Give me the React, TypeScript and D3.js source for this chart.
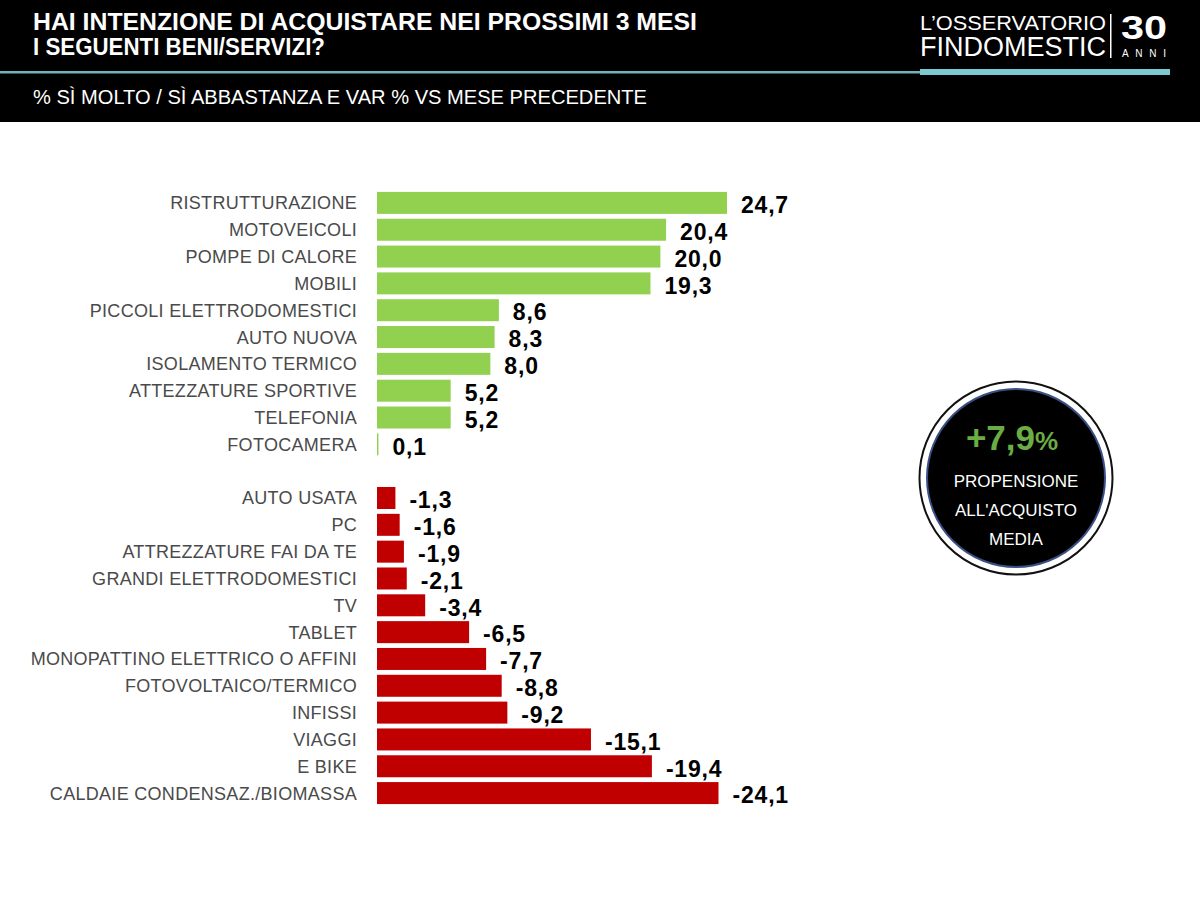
import React from "react";
import * as d3 from "d3";

const posCategories = [
  "RISTRUTTURAZIONE", "MOTOVEICOLI", "POMPE DI CALORE", "MOBILI",
  "PICCOLI ELETTRODOMESTICI", "AUTO NUOVA", "ISOLAMENTO TERMICO",
  "ATTEZZATURE SPORTIVE", "TELEFONIA", "FOTOCAMERA",
];
const posValues = [24.7, 20.4, 20.0, 19.3, 8.6, 8.3, 8.0, 5.2, 5.2, 0.1];
const negCategories = [
  "AUTO USATA", "PC", "ATTREZZATURE FAI DA TE", "GRANDI ELETTRODOMESTICI",
  "TV", "TABLET", "MONOPATTINO ELETTRICO O AFFINI", "FOTOVOLTAICO/TERMICO",
  "INFISSI", "VIAGGI", "E BIKE", "CALDAIE CONDENSAZ./BIOMASSA",
];
const negValues = [-1.3, -1.6, -1.9, -2.1, -3.4, -6.5, -7.7, -8.8, -9.2, -15.1, -19.4, -24.1];

const titleLines = ["HAI INTENZIONE DI ACQUISTARE NEI PROSSIMI 3 MESI", "I SEGUENTI BENI/SERVIZI?"];
const subtitle = "% SÌ MOLTO / SÌ ABBASTANZA E VAR % VS MESE PRECEDENTE";
const badgeValue = "+7,9";
const badgeLines = ["PROPENSIONE", "ALL'ACQUISTO", "MEDIA"];

type Row = { key: string; label: string; value: number };

export default function App() {
  const rows: Row[] = [
    ...posCategories.map((c, i) => ({ key: "p" + i, label: c, value: posValues[i] })),
    { key: "gap", label: "", value: NaN },
    ...negCategories.map((c, i) => ({ key: "n" + i, label: c, value: negValues[i] })),
  ];
  const y = d3.scaleBand<string>().domain(rows.map((r) => r.key)).range([189.5, 806.5]).paddingInner(0.18).paddingOuter(0.09);
  const x = d3.scaleLinear().domain([0, 24.7]).range([377, 727]);
  const fmt = (v: number) => d3.format(".1f")(v).replace(".", ",").replace("−", "-");
  const font = "'Liberation Sans', Arial, Helvetica, sans-serif";

  return (
    <svg width={1200} height={900} style={{ position: "absolute", left: 0, top: 0 }} fontFamily={font}>
      <rect x={0} y={0} width={1200} height={900} fill="#fff" />
      <rect x={0} y={0} width={1200} height={122} fill="#000" />
      {titleLines.map((t, i) => (
        <text key={t} x={33} y={30 + i * 25} fill="#fff" fontSize={24} fontWeight="bold"
          textLength={i === 0 ? 664 : 292} lengthAdjust="spacingAndGlyphs">{t}</text>
      ))}
      <rect x={0} y={71} width={920} height={2.5} fill="#6fb3bd" />
      <rect x={920} y={69} width={250} height={6} fill="#7cc9d2" />
      <text x={33} y={104} fill="#fff" fontSize={20} textLength={614} lengthAdjust="spacingAndGlyphs">{subtitle}</text>
      {/* logo */}
      <text x={920} y={30} fill="#fff" fontSize={20} textLength={186} lengthAdjust="spacingAndGlyphs">L’OSSERVATORIO</text>
      <text x={920} y={56} fill="#fff" fontSize={27} fontWeight={300} textLength={186} lengthAdjust="spacingAndGlyphs">FINDOMESTIC</text>
      <rect x={1110} y={14} width={1.5} height={44} fill="#fff" />
      <text x={1121} y={39} fill="#fff" fontSize={34} fontWeight="bold" textLength={46} lengthAdjust="spacingAndGlyphs">30</text>
      <text x={1122} y={57} fill="#fff" fontSize={10} textLength={44} lengthAdjust="spacing">ANNI</text>

      {/* bars */}
      {rows.filter((r) => r.key !== "gap").map((r) => {
        const y0 = y(r.key)!;
        const bw = y.bandwidth();
        const w = Math.max(x(Math.abs(r.value)) - x(0), 1);
        const color = r.value >= 0 ? "#92d050" : "#c00000";
        return (
          <g key={r.key}>
            <text x={357} y={y0 + bw / 2} dy="0.36em" textAnchor="end" fill="#4a4a4a" fontSize={18} letterSpacing={0.3}>{r.label}</text>
            <rect x={x(0)} y={y0} width={w} height={bw} fill={color} />
            <text x={x(0) + w + 14} y={y0 + bw / 2 + 2} dy="0.36em" fill="#000" fontSize={23} fontWeight="bold" letterSpacing={0.8}>{fmt(r.value)}</text>
          </g>
        );
      })}

      {/* badge */}
      <circle cx={1016} cy={478} r={96.5} fill="#fff" stroke="#111" strokeWidth={2} />
      <circle cx={1016} cy={478} r={89} fill="#000" stroke="#3a4f86" strokeWidth={2} />
      <text x={1012} y={450} textAnchor="middle" fill="#6aad45" fontWeight="bold" fontSize={35}>
        {badgeValue}<tspan fontSize={26}>%</tspan>
      </text>
      {badgeLines.map((t, i) => (
        <text key={t} x={1016} y={487 + i * 29} textAnchor="middle" fill="#fff" fontSize={17}>{t}</text>
      ))}
    </svg>
  );
}
